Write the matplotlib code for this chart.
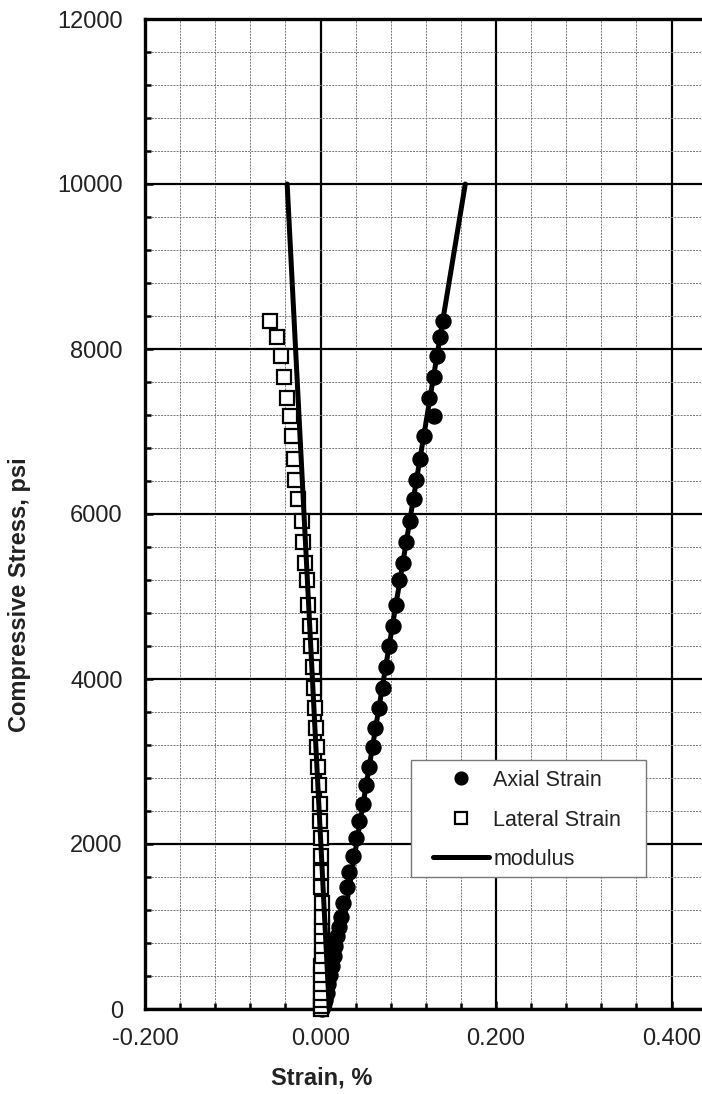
import matplotlib
matplotlib.use('Agg')
import matplotlib.pyplot as plt
import numpy as np
from matplotlib.patches import Rectangle
from matplotlib.ticker import MultipleLocator, FormatStrFormatter

plt.rcParams['font.family'] = ['Liberation Sans', 'DejaVu Sans']

# stress levels, psi
stress = [0, 40, 110, 200, 300, 410, 520, 640, 760, 880, 1000, 1119, 1288, 1482,
          1664, 1854, 2069, 2282, 2485, 2715, 2937, 3179, 3402, 3645, 3887, 4149,
          4400, 4642, 4897, 5200, 5402, 5664, 5918, 6181, 6412, 6666, 6940, 7190,
          7410, 7656, 7914, 8141, 8343]
# axial strain, %
axial = [0.002, 0.003, 0.005, 0.007, 0.009, 0.011, 0.013, 0.015, 0.017, 0.019,
         0.0215, 0.0236, 0.0262, 0.030, 0.033, 0.0368, 0.0406, 0.0436, 0.0482,
         0.052, 0.055, 0.0596, 0.0626, 0.0672, 0.071, 0.0748, 0.0785, 0.0823,
         0.0861, 0.090, 0.0937, 0.098, 0.102, 0.106, 0.109, 0.1135, 0.1175,
         0.1295, 0.1235, 0.129, 0.133, 0.1365, 0.140]
# lateral strain, %
lateral = [0.000, 0.0003, 0.0005, 0.0007, 0.0008, 0.001, 0.0011, 0.0012, 0.0013,
           0.0014, 0.0015, 0.0015, 0.0015, 0.0011, 0.0011, 0.0003, 0.0003, -0.0003,
           -0.0008, -0.0019, -0.0026, -0.0042, -0.0049, -0.0068, -0.0076, -0.0088,
           -0.0106, -0.0125, -0.0137, -0.0151, -0.0174, -0.0194, -0.0216, -0.0258,
           -0.0285, -0.0304, -0.0327, -0.0353, -0.0384, -0.0414, -0.0452, -0.0497,
           -0.0573]

# modulus lines (strain, stress)
mod_stress = [0, 10000]
mod_axial = [0.010, 0.165]
mod_lateral = [0.010, -0.038]

W, H = 702, 1094
fig = plt.figure(figsize=(W/100, H/100), dpi=100)
x0, x1, ytop, ybot = 145, 702, 19, 1009
ax = fig.add_axes([x0/W, (H-ybot)/H, (x1-x0)/W, (ybot-ytop)/H])

px_per_unit = 877.5  # pixels per 1 % strain
ax.set_xlim(-0.2, -0.2 + (x1-x0)/px_per_unit)
ax.set_ylim(0, 12000)

ax.set_axisbelow(True)
ax.xaxis.set_major_locator(MultipleLocator(0.2))
ax.xaxis.set_minor_locator(MultipleLocator(0.04))
ax.yaxis.set_major_locator(MultipleLocator(2000))
ax.yaxis.set_minor_locator(MultipleLocator(400))
ax.xaxis.set_major_formatter(FormatStrFormatter('%.3f'))
ax.grid(which='major', color='black', lw=1.6, ls='-')
ax.grid(which='minor', color='#777777', lw=0.7, ls=(0, (2, 1.2)))

ax.tick_params(which='both', direction='in', labelsize=17, colors='black',
               pad=14, width=1.8)
ax.tick_params(which='major', length=6)
ax.tick_params(which='minor', length=4)
ax.tick_params(axis='y', pad=16)
for lab in ax.get_xticklabels() + ax.get_yticklabels():
    lab.set_color('#222222')

for s in ['left', 'bottom', 'top']:
    ax.spines[s].set_linewidth(2.4)
ax.spines['right'].set_visible(False)

ax.plot(axial, stress, 'o', color='black', ms=10.8, clip_on=False,
        label='Axial Strain', zorder=3)
ax.plot(lateral, stress, 's', mfc='white', mec='black', mew=1.6, ms=9.5,
        clip_on=False, label='Lateral Strain', zorder=3)
ax.plot(mod_axial, mod_stress, '-', color='black', lw=3.6, clip_on=False,
        label='modulus', zorder=4, solid_capstyle='round')
ax.plot(mod_lateral, mod_stress, '-', color='black', lw=3.6, clip_on=False,
        zorder=4, solid_capstyle='round')

ax.set_xlabel('Strain, %', fontsize=17, fontweight='bold', color='#222222')
ax.set_ylabel('Compressive Stress, psi', fontsize=17, fontweight='bold',
              color='#222222')
ax.xaxis.set_label_coords((321.5-x0)/(x1-x0), -(1066-ybot)/(ybot-ytop))
ax.yaxis.set_label_coords((31-x0)/(x1-x0), (ybot-595)/(ybot-ytop))

# legend box
bx0, bx1, by0, by1 = 411, 646, 760, 877
ax.add_patch(Rectangle(((bx0-x0)/(x1-x0), (ybot-by1)/(ybot-ytop)),
                       (bx1-bx0)/(x1-x0), (by1-by0)/(ybot-ytop),
                       transform=ax.transAxes, facecolor='white',
                       edgecolor='#777777', lw=1.0, zorder=6, clip_on=False))
leg = ax.legend(loc='upper left', bbox_to_anchor=((433-x0)/(x1-x0), (ybot-770)/(ybot-ytop)),
                frameon=False, fontsize=15.5, handlelength=2.6, handletextpad=0.2,
                labelspacing=0.86, borderpad=0, borderaxespad=0, markerscale=0.85)
leg.set_zorder(7)
for t in leg.get_texts():
    t.set_color('#222222')

fig.savefig('out.png', dpi=100)
